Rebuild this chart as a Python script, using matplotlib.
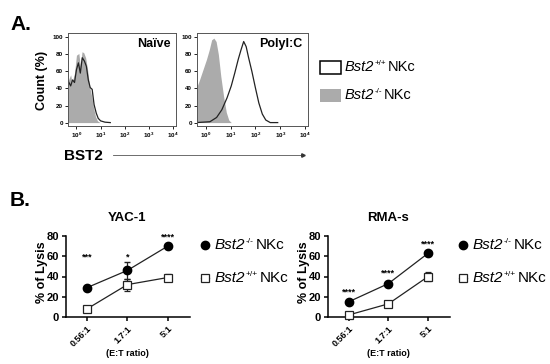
import matplotlib
matplotlib.use("Agg")
import matplotlib.pyplot as plt
from matplotlib.patches import Rectangle
from matplotlib.lines import Line2D

plt.rcParams['font.family'] = ['Liberation Sans', 'DejaVu Sans']
plt.rcParams['mathtext.fontset'] = 'custom'
plt.rcParams['mathtext.rm'] = 'Liberation Sans'
plt.rcParams['mathtext.it'] = 'Liberation Sans:italic'
plt.rcParams['mathtext.bf'] = 'Liberation Sans:bold'

# ---- data: flow histograms (x in log10 units, y in % of max) ----
naive_ko_x = [-0.33, -0.24, -0.18, -0.08, 0.0, 0.1, 0.16, 0.23, 0.3, 0.38, 0.46, 0.54, 0.63, 0.71, 0.79, 0.87, 0.98]
naive_ko_y = [50, 56, 47, 58, 79, 81, 66, 83, 82, 76, 62, 43, 31, 17, 7, 2, 0]
naive_wt_x = [-0.33, -0.24, -0.16, -0.08, 0.0, 0.08, 0.16, 0.24, 0.33, 0.41, 0.49, 0.57, 0.65, 0.73, 0.82, 0.9, 1.0, 1.18, 1.4]
naive_wt_y = [48, 43, 50, 47, 62, 70, 58, 76, 72, 66, 50, 41, 39, 21, 11, 5, 2, 0.5, 0]
poly_ko_x = [-0.39, -0.25, -0.11, 0.03, 0.14, 0.24, 0.33, 0.42, 0.51, 0.61, 0.72, 0.83, 0.93, 1.03]
poly_ko_y = [39, 50, 62, 74, 85, 97, 99, 95, 80, 54, 31, 12, 3, 0]
poly_wt_x = [-0.39, 0.17, 0.44, 0.65, 0.86, 1.03, 1.17, 1.31, 1.42, 1.53, 1.63, 1.72, 1.86, 2.0, 2.14, 2.28, 2.42, 2.6, 2.9]
poly_wt_y = [0, 1, 6, 15, 29, 43, 58, 74, 85, 95, 89, 77, 60, 41, 23, 10, 3, 0, 0]

# ---- data: lysis assays ----
ratios = ['0.56:1', '1.7:1', '5:1']
yac_ko = [29, 46, 70]
yac_ko_err = [2, 8, 2]
yac_wt = [8, 32, 39]
yac_wt_err = [2, 6, 3]
yac_stars = ['***', '*', '****']
yac_star_y = [55, 55, 75]
rma_ko = [15, 33, 63]
rma_ko_err = [1, 2, 1]
rma_wt = [2, 13, 40]
rma_wt_err = [1, 2, 4]
rma_stars = ['****', '****', '****']
rma_star_y = [20, 39, 68]

W, H = 550, 364
fig = plt.figure(figsize=(W / 100, H / 100), dpi=100)
renderer = fig.canvas.get_renderer()


def box(x0, y0, x1, y1):
    return [x0 / W, 1 - y1 / H, (x1 - x0) / W, (y1 - y0) / H]


def ftext(x, y, s, **kw):
    return fig.text(x / W, 1 - y / H, s, **kw)


def genotype(x, y, sup, size):
    # "Bst2" italic + small superscript + " NKc"
    t = ftext(x, y, 'Bst2', fontsize=size, fontstyle='italic', va='center')
    x += t.get_window_extent(renderer).width + 0.5
    t = ftext(x, y - size * 0.32, sup, fontsize=size * 0.55, va='center')
    x += t.get_window_extent(renderer).width + 1.5
    ftext(x, y, 'NKc', fontsize=size, va='center')


# ---- panel A ----
hist_boxes = [box(68, 33, 176, 126), box(197, 33, 308, 126)]
hist_data = [(naive_ko_x, naive_ko_y, naive_wt_x, naive_wt_y, 'Naïve'),
             (poly_ko_x, poly_ko_y, poly_wt_x, poly_wt_y, 'PolyI:C')]
for rect, (kx, ky, wx, wy, label) in zip(hist_boxes, hist_data):
    ax = fig.add_axes(rect)
    ax.fill_between(kx, ky, color='#ababab', lw=0)
    ax.plot(wx, wy, color='#222222', lw=0.9)
    ax.set_xlim(-0.35, 4.12)
    ax.set_ylim(-4, 105)
    ax.set_xticks(range(5))
    ax.set_xticklabels([r'$\mathbf{10^{%d}}$' % k for k in range(5)], fontsize=4.5)
    ax.set_yticks(range(0, 101, 20))
    ax.set_yticklabels([str(v) for v in range(0, 101, 20)], fontsize=4.5, fontweight='bold')
    ax.tick_params(length=2, width=0.6, pad=1.5)
    for sp in ax.spines.values():
        sp.set_linewidth(0.7)
        sp.set_color('#555555')
    ax.text(0.95, 0.88, label, transform=ax.transAxes, ha='right', va='center',
            fontsize=9, fontweight='bold')

ftext(10, 25, 'A.', fontsize=15, fontweight='bold', va='center')
ftext(42, 80, 'Count (%)', fontsize=9, fontweight='bold', rotation=90, ha='center', va='center')
ftext(64, 156, 'BST2', fontsize=11, fontweight='bold', va='center')
fig.add_artist(Line2D([113 / W, 303 / W], [1 - 155 / H, 1 - 155 / H], color='#555555', lw=0.6))
fig.add_artist(Line2D([303 / W], [1 - 155 / H], marker='>', ms=2.5, color='#333333'))

fig.add_artist(Rectangle((320 / W, 1 - 74 / H), 21 / W, 13 / H, fill=False, ec='black', lw=1.1))
fig.add_artist(Rectangle((320 / W, 1 - 102 / H), 21 / W, 13 / H, fc='#ababab', ec='none'))
genotype(345, 67, '+/+', 10.5)
genotype(345, 95, '-/-', 10.5)

# ---- panel B ----
ftext(10, 200, 'B.', fontsize=15, fontweight='bold', va='center')

lysis = [(box(66, 236, 190, 317), 'YAC-1', yac_ko, yac_ko_err, yac_wt, yac_wt_err, yac_stars, yac_star_y, 42, 127, 205),
         (box(328, 236, 450, 317), 'RMA-s', rma_ko, rma_ko_err, rma_wt, rma_wt_err, rma_stars, rma_star_y, 304, 388, 463)]
for rect, title, ko, koe, wt, wte, stars, sy, ylx, cx, lx in lysis:
    ax = fig.add_axes(rect)
    xs = range(len(ratios))
    ax.errorbar(xs, wt, yerr=wte, color='#222222', lw=0.9, marker='s', ms=6, mfc='white',
                mec='#222222', mew=0.9, capsize=2, elinewidth=0.9, clip_on=False, zorder=3)
    ax.errorbar(xs, ko, yerr=koe, color='#222222', lw=0.9, marker='o', ms=6, mfc='black',
                mec='black', capsize=2, elinewidth=0.9, clip_on=False, zorder=4)
    for x, s, y in zip(xs, stars, sy):
        ax.text(x, y, s, ha='center', va='bottom', fontsize=6.5, fontweight='bold')
    ax.set_xlim(-0.52, 2.55)
    ax.set_ylim(0, 80)
    ax.set_yticks(range(0, 81, 20))
    ax.set_yticklabels([str(v) for v in range(0, 81, 20)], fontsize=8, fontweight='bold')
    ax.set_xticks(list(xs))
    ax.set_xticklabels(ratios, rotation=45, ha='right', rotation_mode='anchor',
                       fontsize=6.5, fontweight='bold')
    ax.spines['top'].set_visible(False)
    ax.spines['right'].set_visible(False)
    ax.spines['left'].set_linewidth(1.1)
    ax.spines['bottom'].set_linewidth(1.1)
    ax.tick_params(length=3, width=1.1, pad=2)
    ftext(cx, 218, title, fontsize=9.5, fontweight='bold', ha='center', va='center')
    ftext(ylx, 272, '% of Lysis', fontsize=9, fontweight='bold', rotation=90, ha='center', va='center')
    ftext(cx, 353, '(E:T ratio)', fontsize=6.5, fontweight='bold', ha='center', va='center')
    fig.add_artist(Line2D([lx / W], [1 - 245 / H], marker='o', ms=6, color='black'))
    fig.add_artist(Line2D([(lx - 4) / W, (lx + 4) / W], [1 - 278 / H] * 2, color='#222222', lw=0.9))
    fig.add_artist(Line2D([lx / W], [1 - 278 / H], marker='s', ms=6, mfc='white', mec='#222222', mew=0.9))
    genotype(lx + 10, 245, '-/-', 11)
    genotype(lx + 10, 278, '+/+', 11)

fig.savefig('out.png', dpi=100)
